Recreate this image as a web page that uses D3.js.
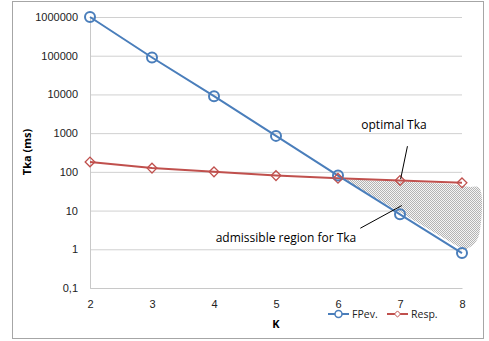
<!DOCTYPE html>
<html>
<head>
<meta charset="utf-8">
<script src="https://cdn.jsdelivr.net/npm/d3@7"></script>
<style>
  html, body { margin: 0; padding: 0; background: #fff; }
  svg { display: block; font-family: "Open Sans", "Noto Sans", sans-serif; }
</style>
</head>
<body>
<svg id="chart" width="489" height="341"></svg>
<script>
// K values on the horizontal axis
const kValues = [2, 3, 4, 5, 6, 7, 8];
// Tka (ms) per K for each series
const fpevValues = [1000000, 90000, 9000, 850, 80, 8, 0.8];
const respValues = [180, 125, 100, 80, 68, 60, 52];
// Y tick labels (log decades)
const yTicks = [0.1, 1, 10, 100, 1000, 10000, 100000, 1000000];
const yTickLabels = ["0,1", "1", "10", "100", "1000", "10000", "100000", "1000000"];
// Outline of the admissible region, in (K, Tka) units
const regionK   = [6.1, 7, 7.85, 8.1, 8.28, 8.28, 8.2, 8.04];
const regionTka = [64, 56, 47, 41, 38, 2.6, 1.4, 0.95];

const svg = d3.select("#chart");
const margin = { left: 90, right: 27, top: 17, bottom: 53 };
const W = 489, H = 341;

const x = d3.scaleLinear().domain([2, 8]).range([margin.left, W - margin.right]);
const y = d3.scaleLog().domain([0.1, 1000000]).range([H - margin.bottom, margin.top]);

// chart frame
svg.append("rect").attr("x", 12.5).attr("y", 1.5).attr("width", 471).attr("height", 337)
  .attr("fill", "#fff").attr("stroke", "#a6a6a6").attr("stroke-width", 1);

// checker pattern for the hatched region
const defs = svg.append("defs");
const pat = defs.append("pattern").attr("id", "checker").attr("patternUnits", "userSpaceOnUse")
  .attr("width", 2).attr("height", 2);
pat.append("rect").attr("width", 2).attr("height", 2).attr("fill", "#f4f4f4");
pat.append("rect").attr("width", 1).attr("height", 1).attr("fill", "#b4b4b4");
pat.append("rect").attr("x", 1).attr("y", 1).attr("width", 1).attr("height", 1).attr("fill", "#b4b4b4");

// gridlines
const yAxis = d3.axisLeft(y).tickValues(yTicks)
  .tickSize(-(W - margin.right - margin.left))
  .tickFormat((d, i) => yTickLabels[i]).tickPadding(12);
const gy = svg.append("g").attr("transform", `translate(${margin.left},0)`).call(yAxis);
gy.select(".domain").remove();
gy.selectAll(".tick line").attr("stroke", "#d0d0d0").attr("stroke-width", 1);
gy.selectAll(".tick text").attr("fill", "#222").style("font-size", "11px");

// axis lines
svg.append("line").attr("x1", margin.left + 0.5).attr("x2", margin.left + 0.5)
  .attr("y1", y(1000000)).attr("y2", y(0.1)).attr("stroke", "#c8c8c8");

const xAxis = d3.axisBottom(x).tickValues(kValues).tickSize(0).tickPadding(12).tickFormat(d3.format("d"));
const gx = svg.append("g").attr("transform", `translate(0,${y(0.1)})`).call(xAxis);
gx.select(".domain").attr("stroke", "#c8c8c8");
gx.selectAll(".tick text").attr("fill", "#222").style("font-size", "11px");

// admissible region
const regionPts = regionK.map((k, i) => [x(k), y(regionTka[i])]);
svg.append("path")
  .attr("d", d3.line().curve(d3.curveCatmullRom.alpha(0.5))(regionPts) + "Z")
  .attr("fill", "url(#checker)").attr("stroke", "none");

// series
const blue = "#4a7ebb", red = "#c0504d";
const lineGen = d3.line().x((d, i) => x(kValues[i])).y(d => y(d));

svg.append("path").datum(respValues).attr("d", lineGen)
  .attr("fill", "none").attr("stroke", red).attr("stroke-width", 2);
svg.append("path").datum(fpevValues).attr("d", lineGen)
  .attr("fill", "none").attr("stroke", blue).attr("stroke-width", 2);

svg.append("g").selectAll("circle").data(fpevValues).join("circle")
  .attr("cx", (d, i) => x(kValues[i])).attr("cy", d => y(d)).attr("r", 5)
  .attr("fill", "none").attr("stroke", blue).attr("stroke-width", 2);

const diamond = d3.symbol().type(d3.symbolDiamond2).size(60);
svg.append("g").selectAll("path").data(respValues).join("path")
  .attr("transform", (d, i) => `translate(${x(kValues[i])},${y(d)})`)
  .attr("d", diamond).attr("fill", "none").attr("stroke", red).attr("stroke-width", 1.3);

// annotations
svg.append("line").attr("x1", x(7.12)).attr("y1", y(1000 * 0.46)).attr("x2", x(7.01)).attr("y2", y(65))
  .attr("stroke", "#000").attr("stroke-width", 1);
svg.append("text").attr("x", 394).attr("y", 129).attr("text-anchor", "middle")
  .style("font-size", "12px").attr("fill", "#000").text("optimal Tka");

svg.append("line").attr("x1", x(6.36)).attr("y1", y(3.5)).attr("x2", x(7.03)).attr("y2", y(13.5))
  .attr("stroke", "#000").attr("stroke-width", 1);
svg.append("text").attr("x", 286).attr("y", 242).attr("text-anchor", "middle")
  .style("font-size", "12px").attr("fill", "#000").text("admissible region for Tka");

// axis titles
svg.append("text").attr("transform", "translate(31,152) rotate(-90)").attr("text-anchor", "middle")
  .style("font-size", "11px").style("font-weight", "bold").attr("fill", "#000").text("Tka (ms)");
svg.append("text").attr("x", 276).attr("y", 328).attr("text-anchor", "middle")
  .style("font-size", "11px").style("font-weight", "bold").attr("fill", "#000").text("K");

// legend
const legend = [
  { name: "FPev.", color: blue, x0: 328, marker: "circle" },
  { name: "Resp.", color: red, x0: 387, marker: "diamond" }
];
const ly = 314;
legend.forEach(l => {
  svg.append("line").attr("x1", l.x0).attr("x2", l.x0 + 21).attr("y1", ly).attr("y2", ly)
    .attr("stroke", l.color).attr("stroke-width", 2);
  if (l.marker === "circle") {
    svg.append("circle").attr("cx", l.x0 + 10.5).attr("cy", ly).attr("r", 3.5)
      .attr("fill", "#fff").attr("stroke", l.color).attr("stroke-width", 1.5);
  } else {
    svg.append("path").attr("transform", `translate(${l.x0 + 10.5},${ly})`)
      .attr("d", d3.symbol().type(d3.symbolDiamond2).size(24))
      .attr("fill", "#fff").attr("stroke", l.color).attr("stroke-width", 1);
  }
  svg.append("text").attr("x", l.x0 + 24).attr("y", ly + 4)
    .style("font-size", "10.5px").attr("fill", "#222").text(l.name);
});
</script>
</body>
</html>
